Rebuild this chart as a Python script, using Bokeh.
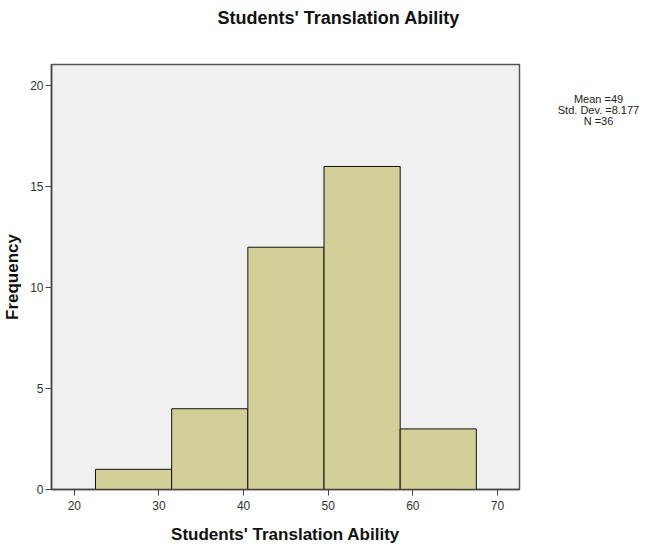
from bokeh.plotting import figure
from bokeh.models import ColumnDataSource, Range1d, FixedTicker, Title
from bokeh.layouts import row
from bokeh.embed import file_html
from bokeh.resources import INLINE

# Data
bin_left = [22.5, 31.5, 40.5, 49.5, 58.5]
bin_right = [31.5, 40.5, 49.5, 58.5, 67.5]
counts = [1, 4, 12, 16, 3]
x_ticks = [20, 30, 40, 50, 60, 70]
y_ticks = [0, 5, 10, 15, 20]
mean_val = 49
std_val = 8.177
n_val = 36

FONT = "Liberation Sans"

p = figure(width=521, height=546, output_backend="svg", toolbar_location=None, title=None,
           x_range=Range1d(17.3, 72.6), y_range=Range1d(0, 21.05),
           min_border_left=51, min_border_right=2, min_border_top=64, min_border_bottom=57)

# spacer between title and frame
p.add_layout(Title(text=" ", text_font_size="30px", standoff=0, text_color="white"), "above")
p.add_layout(Title(text="Students' Translation Ability", align="left", offset=166, standoff=4,
                   text_font=FONT, text_font_size="18px", text_font_style="bold",
                   text_color="#111111"), "above")

p.background_fill_color = "#f0f0f0"
p.border_fill_color = "white"
p.outline_line_color = "#555555"
p.outline_line_width = 1.5
p.xgrid.visible = False
p.ygrid.visible = False

src = ColumnDataSource(dict(left=bin_left, right=bin_right, top=counts, bottom=[0] * len(counts)))
p.quad(left="left", right="right", top="top", bottom="bottom", source=src,
       fill_color="#d3cf99", line_color="#111111", line_width=1)

for ax in (p.xaxis[0], p.yaxis[0]):
    ax.axis_line_color = "#444444"
    ax.axis_line_width = 1.5
    ax.major_tick_line_color = "#444444"
    ax.major_tick_out = 6
    ax.major_tick_in = 0
    ax.minor_tick_line_color = None
    ax.major_label_text_font = FONT
    ax.major_label_text_font_size = "12px"
    ax.major_label_text_color = "#333333"
    ax.axis_label_text_font = FONT
    ax.axis_label_text_font_size = "17px"
    ax.axis_label_text_font_style = "bold"
    ax.axis_label_text_color = "#111111"

p.xaxis[0].ticker = FixedTicker(ticks=x_ticks)
p.yaxis[0].ticker = FixedTicker(ticks=y_ticks)
p.xaxis[0].axis_label = "Students' Translation Ability"
p.yaxis[0].axis_label = "Frequency"
p.xaxis[0].axis_label_standoff = 12
p.yaxis[0].major_label_standoff = 2
p.yaxis[0].axis_label_standoff = 5

# side panel with summary statistics (frame aligned with the main frame: 64..489 px)
q = figure(width=129, height=546, output_backend="svg", toolbar_location=None,
           x_range=Range1d(0, 129), y_range=Range1d(489, 64),
           min_border=0, x_axis_type=None, y_axis_type=None)
q.outline_line_color = None
q.xgrid.visible = False
q.ygrid.visible = False
stats_lines = [f"Mean ={mean_val}", f"Std. Dev. ={std_val}", f"N ={n_val}"]
q.text(x=[77, 77, 77], y=[98, 109, 120], text=stats_lines, text_align="center",
       text_baseline="middle", text_font={"value": FONT}, text_font_size="11px",
       text_color="#222222")

layout = row(p, q, spacing=0)
open("out.html", "w").write(file_html(layout, INLINE))
